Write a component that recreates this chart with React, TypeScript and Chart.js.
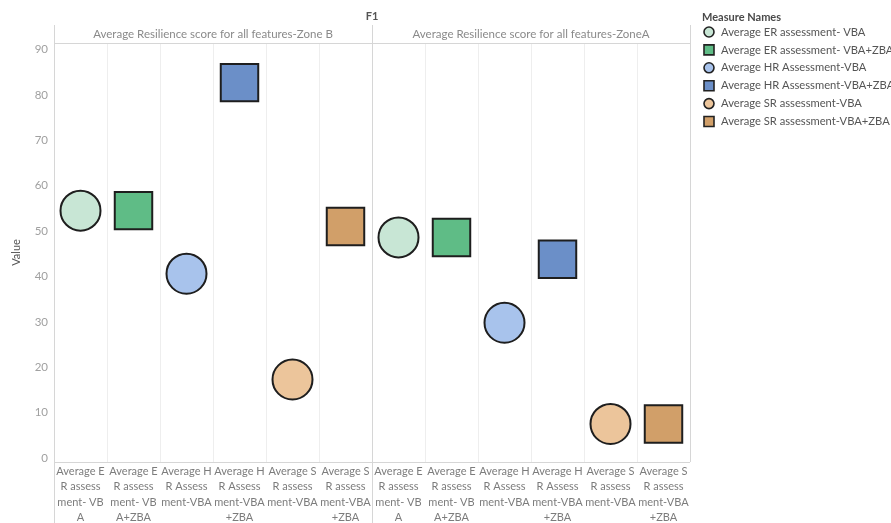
import React, { useEffect, useRef } from "react";
import { Chart, registerables } from "chart.js";

Chart.register(...registerables);

const FONT = "Lato, 'Open Sans', sans-serif";

// Measures shown as marks (one colour / shape each)
const measureNames = [
  "Average ER assessment- VBA",
  "Average ER assessment- VBA+ZBA",
  "Average HR Assessment-VBA",
  "Average HR Assessment-VBA+ZBA",
  "Average SR assessment-VBA",
  "Average SR assessment-VBA+ZBA",
];

// Column header text, wrapped the way the axis shows it
const columnLabels = [
  ["Average E", "R assess", "ment- VB", "A"],
  ["Average E", "R assess", "ment- VB", "A+ZBA"],
  ["Average H", "R Assess", "ment-VBA"],
  ["Average H", "R Assess", "ment-VBA", "+ZBA"],
  ["Average S", "R assess", "ment-VBA"],
  ["Average S", "R assess", "ment-VBA", "+ZBA"],
];

const panelTitles = [
  "Average Resilience score for all features-Zone B",
  "Average Resilience score for all features-ZoneA",
];

const zoneB = [54.5, 54.5, 40.6, 82.7, 17.3, 51.0];
const zoneA = [48.6, 48.6, 29.8, 43.8, 7.5, 7.5];

const yTicks = [0, 10, 20, 30, 40, 50, 60, 70, 80, 90];

const fillColors = ["#c8e6d5", "#5fbc86", "#a8c3ec", "#6b8fc8", "#ecc59b", "#d19f69"];
const shapes = ["circle", "rect", "circle", "rect", "circle", "rect"];

const frameColor = "#d6d6d6";
const cellLineColor = "#eeeeee";

const decorPlugin = {
  id: "decor",
  beforeDatasetsDraw(chart: any) {
    const { ctx, chartArea } = chart;
    const xs = chart.scales.x;
    const { left, right, top, bottom } = chartArea;
    const divider = (xs.getPixelForTick(5) + xs.getPixelForTick(6)) / 2;
    const H = chart.height;
    ctx.save();
    ctx.strokeStyle = frameColor;
    ctx.lineWidth = 1;
    ctx.beginPath();
    // pane borders
    ctx.moveTo(Math.round(left) + 0.5, 25);
    ctx.lineTo(Math.round(left) + 0.5, H);
    ctx.moveTo(Math.round(divider) + 0.5, 25);
    ctx.lineTo(Math.round(divider) + 0.5, H);
    ctx.moveTo(Math.round(right) + 0.5, 25);
    ctx.lineTo(Math.round(right) + 0.5, bottom);
    // header underline and axis line
    ctx.moveTo(left, Math.round(top) + 0.5);
    ctx.lineTo(right, Math.round(top) + 0.5);
    ctx.moveTo(left, Math.round(bottom) + 0.5);
    ctx.lineTo(right, Math.round(bottom) + 0.5);
    ctx.stroke();

    // panel titles
    ctx.fillStyle = "#8a8a8a";
    ctx.font = `11.5px ${FONT}`;
    ctx.textAlign = "center";
    ctx.textBaseline = "middle";
    ctx.fillText(panelTitles[0], (left + divider) / 2, 34);
    ctx.fillText(panelTitles[1], (divider + right) / 2, 34);

    // top-level header
    ctx.fillStyle = "#555";
    ctx.font = `bold 11px ${FONT}`;
    ctx.fillText("F1", divider, 16);
    ctx.restore();
  },
  afterDraw(chart: any) {
    const { ctx } = chart;
    ctx.save();
    ctx.textBaseline = "middle";
    ctx.textAlign = "left";
    ctx.fillStyle = "#4a4a4a";
    ctx.font = `bold 11px ${FONT}`;
    ctx.fillText("Measure Names", 702, 17);
    ctx.font = `11.2px ${FONT}`;
    measureNames.forEach((name, i) => {
      const y = 32 + i * 17.9;
      const cx = 709;
      ctx.fillStyle = fillColors[i];
      ctx.strokeStyle = "#222";
      ctx.lineWidth = 1.6;
      ctx.beginPath();
      if (shapes[i] === "circle") {
        ctx.arc(cx, y, 5, 0, Math.PI * 2);
      } else {
        ctx.rect(cx - 5, y - 5, 10, 10);
      }
      ctx.fill();
      ctx.stroke();
      ctx.fillStyle = "#555";
      ctx.fillText(name, 721, y);
    });
    ctx.restore();
  },
};

export default function App() {
  const canvasRef = useRef<HTMLCanvasElement | null>(null);

  useEffect(() => {
    if (!canvasRef.current) return;
    const labels = [...columnLabels, ...columnLabels];
    const datasets = measureNames.map((name, m) => {
      const data: (number | null)[] = new Array(labels.length).fill(null);
      data[m] = zoneB[m];
      data[columnLabels.length + m] = zoneA[m];
      const isCircle = shapes[m] === "circle";
      return {
        label: name,
        data,
        showLine: false,
        pointStyle: shapes[m],
        pointRadius: isCircle ? 20 : 26.5,
        pointHoverRadius: isCircle ? 20 : 26.5,
        pointBackgroundColor: fillColors[m],
        pointBorderColor: "#1e1e1e",
        pointBorderWidth: 2,
        backgroundColor: fillColors[m],
        borderColor: "#1e1e1e",
      };
    });

    const chart = new Chart(canvasRef.current, {
      type: "line",
      data: { labels, datasets },
      plugins: [decorPlugin],
      options: {
        animation: false,
        responsive: false,
        devicePixelRatio: 1,
        layout: { padding: { top: 43, right: 201, left: 0, bottom: 0 } },
        plugins: { legend: { display: false }, tooltip: { enabled: false } },
        scales: {
          x: {
            type: "category",
            offset: true,
            grid: { display: true, offset: true, color: cellLineColor, drawTicks: false },
            border: { display: false },
            ticks: {
              autoSkip: false,
              maxRotation: 0,
              minRotation: 0,
              padding: 1.5,
              color: "#7c7c7c",
              font: { family: FONT, size: 11, lineHeight: 15.4 / 11 },
            },
            afterFit: (s: any) => {
              s.height = 61;
            },
          },
          y: {
            min: -0.88,
            max: 91.43,
            afterBuildTicks: (s: any) => {
              s.ticks = yTicks.map((v) => ({ value: v }));
            },
            grid: { display: false, drawTicks: false },
            border: { display: false },
            ticks: {
              padding: 6,
              color: "#a0a0a0",
              font: { family: FONT, size: 11.5 },
            },
            title: {
              display: true,
              text: "Value",
              color: "#555",
              font: { family: FONT, size: 11 },
              padding: { top: 9.5, bottom: 0 },
            },
            afterFit: (s: any) => {
              s.width = 54;
            },
          },
        },
      },
    });
    return () => chart.destroy();
  }, []);

  return (
    <div style={{ position: "absolute", left: 0, top: 0, width: 891, height: 523, background: "#fff" }}>
      <canvas ref={canvasRef} width={891} height={523} />
    </div>
  );
}
